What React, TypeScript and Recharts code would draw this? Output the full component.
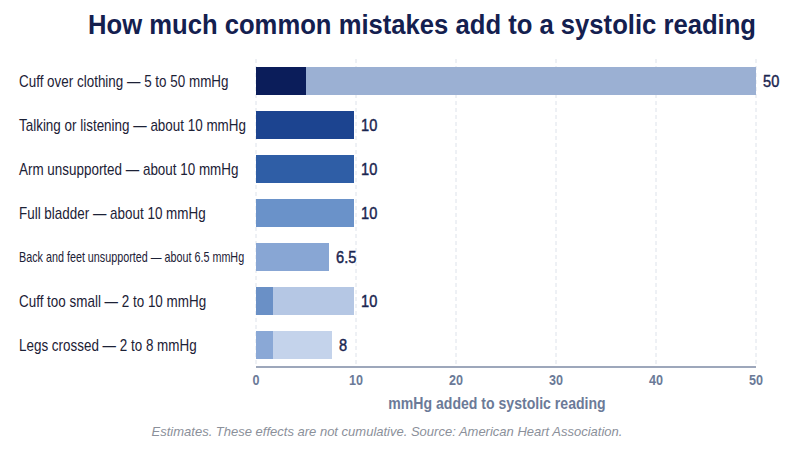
import React from "react";
import { BarChart, Bar, XAxis, YAxis, CartesianGrid, Cell, LabelList } from "recharts";

const categories = [
  "Cuff over clothing — 5 to 50 mmHg",
  "Talking or listening — about 10 mmHg",
  "Arm unsupported — about 10 mmHg",
  "Full bladder — about 10 mmHg",
  "Back and feet unsupported — about 6.5 mmHg",
  "Cuff too small — 2 to 10 mmHg",
  "Legs crossed — 2 to 8 mmHg",
];
const baseValues = [5, 9.8, 9.8, 9.8, 7.3, 1.7, 1.7];
const extraValues = [45, 0, 0, 0, 0, 8.1, 5.9];
const valueLabels = ["50", "10", "10", "10", "6.5", "10", "8"];
const xTicks = [0, 10, 20, 30, 40, 50];

const baseColors = ["#0b1d5a", "#1c4490", "#2f5ea6", "#6a92c9", "#88a6d4", "#6a90c6", "#8aa8d6"];
const extraColors = ["#9bb0d3", "#1c4490", "#2f5ea6", "#6a92c9", "#88a6d4", "#b5c7e4", "#c4d3eb"];

const data = categories.map((c, i) => ({
  name: c,
  base: baseValues[i],
  extra: extraValues[i],
  label: valueLabels[i],
}));

const SANS = "'Liberation Sans', Arial, sans-serif";

const YTick = (props: any) => {
  const { y, payload } = props;
  const long = String(payload.value).length > 38;
  return (
    <g transform={`translate(19, ${y}) scale(${long ? 0.77 : 0.84}, 1)`}>
      <text x={0} y={0} dy="0.35em" textAnchor="start" fontFamily={SANS} fontSize={long ? 14 : 16} fill="#1c2136">
        {payload.value}
      </text>
    </g>
  );
};

const XTick = (props: any) => {
  const { x, y, payload } = props;
  return (
    <g transform={`translate(${x}, ${y}) scale(0.9, 1)`}>
      <text x={0} y={0} dy="0.71em" textAnchor="middle" fontFamily={SANS} fontSize={14} fontWeight={700} fill="#6b7a98">
        {payload.value}
      </text>
    </g>
  );
};

const EndLabel = (props: any) => {
  const { x, y, width, height, index } = props;
  const d = data[index];
  const pxPerUnit = Number(width) / d.base;
  const endX = Number(x) + pxPerUnit * (d.base + d.extra);
  return (
    <g transform={`translate(${endX + 7}, ${Number(y) + Number(height) / 2}) scale(0.86, 1)`}>
      <text
        x={0}
        y={0}
        dy="0.35em"
        textAnchor="start"
        fontFamily={SANS}
        fontSize={17}
        fill="#1a2550"
        stroke="#1a2550"
        strokeWidth={0.45}
      >
        {d.label}
      </text>
    </g>
  );
};

export default function App() {
  return (
    <div style={{ position: "absolute", left: 0, top: 0, width: 800, height: 450, background: "#ffffff" }}>
      <BarChart
        width={800}
        height={450}
        data={data}
        layout="vertical"
        margin={{ top: 59, right: 44, bottom: 33, left: 19 }}
      >
        <CartesianGrid horizontal={false} strokeDasharray="4 3" stroke="#dde2ea" />
        <XAxis
          type="number"
          domain={[0, 50]}
          ticks={xTicks}
          tickLine={false}
          axisLine={{ stroke: "#7d8aa5", strokeWidth: 1.5 }}
          tick={<XTick />}
          height={50}
        />
        <YAxis type="category" dataKey="name" width={237} tick={<YTick />} tickLine={false} axisLine={false} />
        <Bar dataKey="base" stackId="a" barSize={28} isAnimationActive={false}>
          {data.map((_, i) => (
            <Cell key={i} fill={baseColors[i]} />
          ))}
          <LabelList dataKey="label" content={<EndLabel />} />
        </Bar>
        <Bar dataKey="extra" stackId="a" barSize={28} isAnimationActive={false}>
          {data.map((_, i) => (
            <Cell key={i} fill={extraColors[i]} />
          ))}
        </Bar>
      </BarChart>
      <svg width={800} height={450} style={{ position: "absolute", left: 0, top: 0, pointerEvents: "none" }}>
        <text
          x={88}
          y={34}
          textLength={668}
          lengthAdjust="spacingAndGlyphs"
          fontFamily={SANS}
          fontSize={28}
          fontWeight={700}
          fill="#14204f"
        >
          How much common mistakes add to a systolic reading
        </text>
        <g transform="translate(497, 409) scale(0.88, 1)">
          <text x={0} y={0} textAnchor="middle" fontFamily={SANS} fontSize={16} fontWeight={700} fill="#6b7a98">
            mmHg added to systolic reading
          </text>
        </g>
        <text
          x={387}
          y={436}
          textAnchor="middle"
          fontFamily={SANS}
          fontSize={13}
          fontStyle="italic"
          fill="#8b909a"
        >
          Estimates. These effects are not cumulative. Source: American Heart Association.
        </text>
      </svg>
    </div>
  );
}
